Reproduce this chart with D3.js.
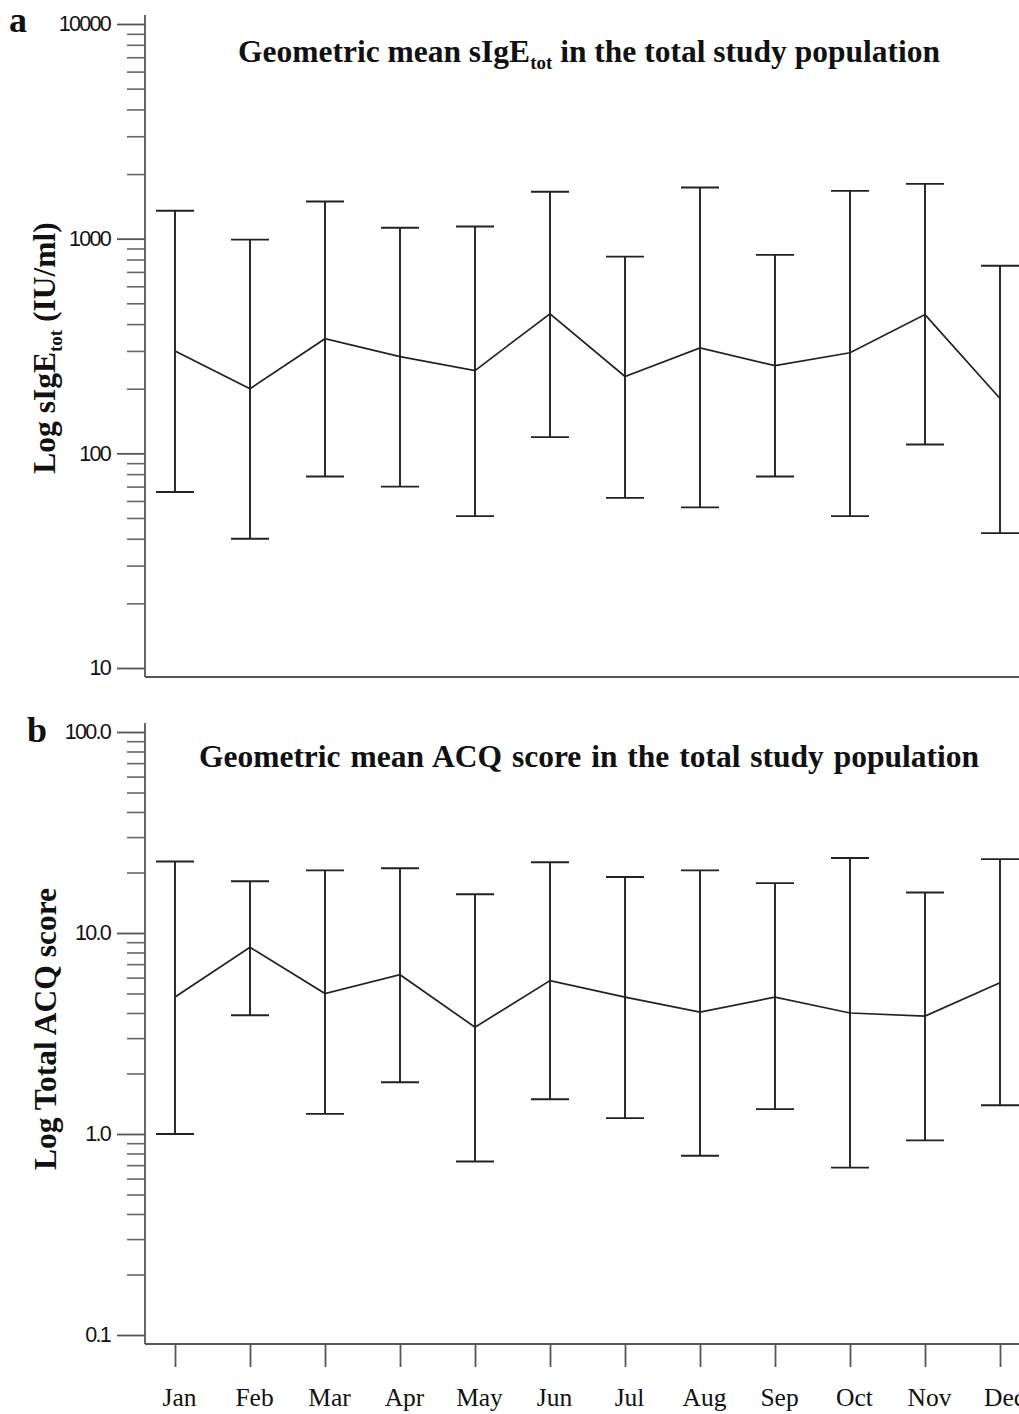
<!DOCTYPE html>
<html>
<head>
<meta charset="utf-8">
<script src="https://cdn.jsdelivr.net/npm/d3@7"></script>
<style>
  body { margin: 0; background: #fff; }
  text { fill: #111; }
</style>
</head>
<body>
<div id="chart"></div>
<script>
var width = 1019
var height = 1414

// months on the x axis
var months = ["Jan", "Feb", "Mar", "Apr", "May", "Jun", "Jul", "Aug", "Sep", "Oct", "Nov", "Dec"]

// panel a: geometric mean sIgE_tot (IU/ml), with lower / upper error bounds
var igeMean  = [300, 200, 342, 282, 243, 447, 228, 310, 256, 294, 443, 180]
var igeLower = [66, 40, 78, 70, 51, 119, 62, 56, 78, 51, 110, 42.5]
var igeUpper = [1350, 990, 1490, 1125, 1140, 1655, 825, 1730, 840, 1670, 1800, 748]
var igeTicks = [10, 100, 1000, 10000]

// panel b: geometric mean ACQ score, with lower / upper error bounds
var acqMean  = [4.8, 8.5, 5.0, 6.2, 3.4, 5.8, 4.8, 4.04, 4.8, 4.0, 3.86, 5.65]
var acqLower = [1.0, 3.9, 1.26, 1.81, 0.73, 1.49, 1.2, 0.78, 1.33, 0.68, 0.93, 1.39]
var acqUpper = [22.7, 18.1, 20.5, 21, 15.6, 22.5, 19, 20.5, 17.7, 23.6, 15.9, 23.3]
var acqTicks = [0.1, 1, 10, 100]

var svg = d3.select("#chart").append("svg").attr("width", width).attr("height", height)

var x = d3.scalePoint().domain(months).range([175, 1000])
var axisX = 145
var serif = "'Liberation Serif', 'Times New Roman', serif"
var sans = "'Liberation Sans', Arial, sans-serif"
var headSize = 31.5

function minorTicks(domain) {
    var out = []
    for (var e = Math.log10(domain[0]); e < Math.log10(domain[1]); e++) {
        for (var k = 2; k <= 9; k++) out.push(k * Math.pow(10, e))
    }
    return out
}

function panel(opts) {
    var y = d3.scaleLog().domain(opts.domain).range(opts.range)
    var g = svg.append("g")

    // minor ticks
    g.append("g")
        .attr("transform", "translate(" + axisX + ",0)")
        .call(d3.axisLeft(y).tickValues(minorTicks(opts.domain)).tickSize(18).tickFormat(""))
        .call(a => a.select(".domain").remove())
        .selectAll("line").attr("stroke", "#666").attr("stroke-width", 1.6)

    // major ticks + labels
    var major = g.append("g")
        .attr("transform", "translate(" + axisX + ",0)")
        .call(d3.axisLeft(y).tickValues(opts.ticks).tickSize(28).tickPadding(7).tickFormat(opts.format))
    major.select(".domain").remove()
    major.selectAll("line").attr("stroke", "#555").attr("stroke-width", 1.8)
    major.selectAll("text")
        .attr("font-family", sans)
        .attr("font-size", 21.5)
        .attr("letter-spacing", -1.7)
        .attr("fill", "#222")

    // axis frame lines
    var top = opts.range[1] - 9, bottom = opts.range[0] + 9
    g.append("line").attr("x1", axisX).attr("x2", axisX).attr("y1", top).attr("y2", bottom)
        .attr("stroke", "#555").attr("stroke-width", 1.8)
    g.append("line").attr("x1", axisX).attr("x2", width).attr("y1", bottom).attr("y2", bottom)
        .attr("stroke", "#555").attr("stroke-width", 1.8)

    // error bars
    var bars = g.selectAll(".bar").data(months).enter().append("g").attr("class", "bar")
    bars.append("line")
        .attr("x1", d => x(d)).attr("x2", d => x(d))
        .attr("y1", (d, i) => y(opts.lower[i])).attr("y2", (d, i) => y(opts.upper[i]))
        .attr("stroke", "#222").attr("stroke-width", 1.9)
    bars.append("line")
        .attr("x1", d => x(d) - 19).attr("x2", d => x(d) + 19)
        .attr("y1", (d, i) => y(opts.upper[i])).attr("y2", (d, i) => y(opts.upper[i]))
        .attr("stroke", "#222").attr("stroke-width", 1.9)
    bars.append("line")
        .attr("x1", d => x(d) - 19).attr("x2", d => x(d) + 19)
        .attr("y1", (d, i) => y(opts.lower[i])).attr("y2", (d, i) => y(opts.lower[i]))
        .attr("stroke", "#222").attr("stroke-width", 1.9)

    // mean line
    g.append("path")
        .datum(months)
        .attr("fill", "none").attr("stroke", "#222").attr("stroke-width", 1.7)
        .attr("d", d3.line().x(d => x(d)).y((d, i) => y(opts.mean[i])))

    return { y: y, bottom: bottom }
}

var pa = panel({ domain: [10, 10000], range: [668, 24], ticks: igeTicks, format: d3.format("d"),
    mean: igeMean, lower: igeLower, upper: igeUpper })
var pb = panel({ domain: [0.1, 100], range: [1335, 732], ticks: acqTicks, format: d3.format(".1f"),
    mean: acqMean, lower: acqLower, upper: acqUpper })

// x ticks and month labels under panel b
var xAxis = svg.append("g")
    .attr("transform", "translate(0," + pb.bottom + ")")
    .call(d3.axisBottom(x).tickSize(23).tickPadding(21))
xAxis.select(".domain").remove()
xAxis.selectAll("line").attr("stroke", "#555").attr("stroke-width", 1.8)
xAxis.selectAll("text")
    .attr("font-family", serif).attr("font-size", 25.5).attr("fill", "#111").attr("dx", 4)

// titles
var t1 = svg.append("text").attr("x", 589).attr("y", 62).attr("text-anchor", "middle")
    .attr("font-family", serif).attr("font-weight", "bold").attr("font-size", headSize)
t1.append("tspan").text("Geometric mean sIgE")
t1.append("tspan").attr("font-size", 19).attr("dy", 7).text("tot")
t1.append("tspan").attr("dy", -7).text(" in the total study population")

svg.append("text").attr("x", 589).attr("y", 767).attr("text-anchor", "middle")
    .attr("font-family", serif).attr("font-weight", "bold").attr("font-size", headSize)
    .attr("word-spacing", 2)
    .text("Geometric mean ACQ score in the total study population")

// y axis titles
var ya = svg.append("text").attr("transform", "translate(55,348) rotate(-90)")
    .attr("text-anchor", "middle")
    .attr("font-family", serif).attr("font-weight", "bold").attr("font-size", headSize)
ya.append("tspan").text("Log sIgE")
ya.append("tspan").attr("font-size", 19).attr("dy", 7).text("tot")
ya.append("tspan").attr("dy", -7).text(" (IU/ml)")

svg.append("text").attr("transform", "translate(56,1029) rotate(-90)")
    .attr("text-anchor", "middle")
    .attr("font-family", serif).attr("font-weight", "bold").attr("font-size", headSize)
    .text("Log Total ACQ score")

// panel letters
svg.append("text").attr("x", 9).attr("y", 32)
    .attr("font-family", serif).attr("font-weight", "bold").attr("font-size", 36).text("a")
svg.append("text").attr("x", 27).attr("y", 742)
    .attr("font-family", serif).attr("font-weight", "bold").attr("font-size", 36).text("b")
</script>
</body>
</html>
